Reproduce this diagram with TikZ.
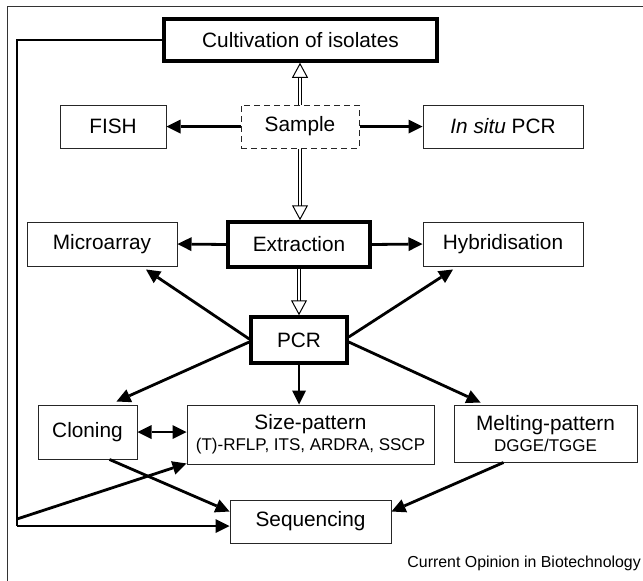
\documentclass[tikz,border=0pt]{standalone}
\usepackage{fontspec}
\setmainfont{Liberation Sans}
\usetikzlibrary{arrows.meta,calc}
\begin{document}
\begin{tikzpicture}[x=1pt,y=-1pt,
  box/.style={draw=black!85, line width=1pt, inner sep=0pt, align=center,
    font=\fontsize{20.8}{23}\selectfont},
  thickbox/.style={box, draw=black, line width=3.5pt},
  dashbox/.style={box, dash pattern=on 6pt off 4pt},
  arr/.style={line width=2.8pt, -{Triangle[length=14pt,width=14pt,line width=0pt]}},
  dblarr/.style={line width=2.8pt, {Triangle[length=14pt,width=14pt,line width=0pt]}-{Triangle[length=14pt,width=14pt,line width=0pt]}},
  feed/.style={line width=2.8pt, line join=miter},
  openarr/.style={draw=none,
    preaction={draw=black, line width=3.6pt, shorten >=14pt},
    preaction={draw=white, line width=1.6pt, shorten >=13pt},
    postaction={draw=black, line width=1pt, dash pattern=on 0pt off 3000pt,
      -{Triangle[open, length=15pt, width=16pt]}}}
]
\useasboundingbox (0,0) rectangle (643,581);
% frame
\draw[line width=1pt, draw=black!80] (7,581) -- (7,6) -- (643,6);

% nodes
\node[thickbox, minimum width=273pt, minimum height=42pt] (cult) at (300.5,40) {Cultivation of isolates};
\node[dashbox, minimum width=118pt, minimum height=43pt] (sample) at (300,126.5) {Sample};
\node[box, minimum width=106pt, minimum height=43pt] (fish) at (113,126.5) {FISH};
\node[box, minimum width=160pt, minimum height=43pt] (insitu) at (503,126.5) {\textit{In situ} PCR};
\node[box, minimum width=150pt, minimum height=44pt] (micro) at (102,244) {Microarray};
\node[thickbox, minimum width=142pt, minimum height=45pt] (extr) at (299,244.5) {Extraction};
\node[box, minimum width=160pt, minimum height=44pt] (hybr) at (503,244) {Hybridisation};
\node[thickbox, minimum width=96pt, minimum height=46pt] (pcr) at (299,340) {PCR};
\node[box, minimum width=99pt, minimum height=54pt] (clon) at (87.5,432) {Cloning};
\node[box, minimum width=247pt, minimum height=59pt] (size) at (310.5,434.5)
  {Size-pattern\\[-2pt]{\fontsize{17}{20}\selectfont (T)-RFLP, ITS, ARDRA, SSCP}};
\node[box, minimum width=183pt, minimum height=57pt] (melt) at (545.5,433.5)
  {Melting-pattern\\[-2pt]{\fontsize{17}{20}\selectfont DGGE/TGGE}};
\node[box, minimum width=161pt, minimum height=43pt] (seq) at (310.5,521.5) {Sequencing};
\node[anchor=base east, inner sep=0pt, font=\fontsize{15.9}{18}\selectfont] (credit) at (641,567) {Current Opinion in Biotechnology};

% open arrows
\draw[openarr] (sample.north) -- (sample.north |- cult.south);
\draw[openarr] (sample.south) -- (sample.south |- extr.north);
\draw[openarr] (extr.south) -- (pcr.north);

% black arrows
\draw[arr] (sample.west) -- (fish.east);
\draw[arr] (sample.east) -- (insitu.west);
\draw[arr] (extr.west) -- (micro.east);
\draw[arr] (extr.east) -- (hybr.west);
\draw[arr] ([yshift=1pt]pcr.west) -- ([xshift=44pt,yshift=-3pt]micro.south);
\draw[arr] ([yshift=3pt]pcr.east) -- ([xshift=-50pt,yshift=-3pt]hybr.south);
\draw[arr] ([yshift=-2pt]pcr.west) -- ([xshift=29pt,yshift=3pt]clon.north);
\draw[arr] (pcr.south) -- (pcr.south |- size.north);
\draw[arr] ([yshift=-2pt]pcr.east) -- ([xshift=-65pt,yshift=2pt]melt.north);
\draw[dblarr] (clon.east) -- (clon.east -| size.west);
\draw[arr] ([xshift=22pt]clon.south) -- ([yshift=10pt]seq.west);
\draw[arr] ([xshift=-42pt]melt.south) -- ([yshift=10pt]seq.east);

% feed line from cultivation
\coordinate (fa) at (17,40);
\coordinate (fb) at (17,526);
\coordinate (fc) at (17,519);
\draw[feed] (cult.west) -- (fa) -- (fb);
\draw[arr] (fb) -- (fb -| seq.west);
\draw[arr] (fc) -- ([yshift=1pt]size.south west);
\end{tikzpicture}
\end{document}
